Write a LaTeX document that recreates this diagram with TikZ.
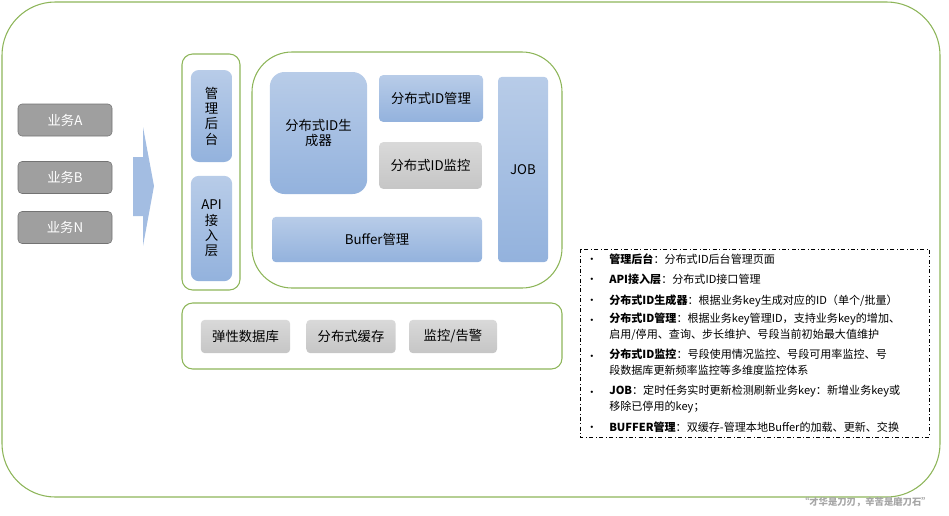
\documentclass[tikz,border=0pt]{standalone}
\usepackage{fontspec}
\setmainfont{Noto Sans CJK SC}
\usetikzlibrary{positioning}
\definecolor{frame}{HTML}{8DB559}
\definecolor{blueT}{HTML}{B8CCE8}
\definecolor{blueB}{HTML}{93B2DD}
\tikzset{
    box/.style={rectangle, rounded corners=3pt, inner sep=0pt, font=\fontsize{10}{11.5}\selectfont},
    biz/.style={box, fill=gray!75, draw=gray!90!black, text=white},
    blue/.style={box, top color=blueT, bottom color=blueB, draw=none, align=center},
    grey/.style={box, top color=gray!30, bottom color=gray!45, draw=none},
    holder/.style={rectangle, draw=frame, thick},
    note/.style={anchor=north west, inner sep=0pt, align=left, font=\fontsize{8.3}{12}\selectfont},
    dot/.style={anchor=north west, inner sep=0pt, font=\fontsize{8.3}{12}\selectfont}
}
\begin{document}
\begin{tikzpicture}[x=0.75pt, y=-0.75pt]
  \useasboundingbox (0,0) rectangle (949,515);
  \draw[holder, rounded corners=40pt] (2,2) rectangle (940,497);

  \node[biz, minimum width=70.5pt, minimum height=24pt] (ya) at (65,120) {业务A};
  \node[biz, minimum width=70.5pt, minimum height=24pt] (yb) at (65,177.5) {业务B};
  \node[biz, minimum width=70.5pt, minimum height=24pt] (yn) at (65,227.5) {业务N};

  \fill[blueB!85] (133,157) -- (143,157) -- (143,127) -- (154,186)
      -- (143,246) -- (143,216) -- (133,216) -- cycle;

  \draw[holder, rounded corners=8pt] (182,54) rectangle (240,290);
  \node[blue, minimum width=31pt, minimum height=69pt, rounded corners=6pt] (mgr) at (211.5,116) {管\\理\\后\\台};
  \node[blue, minimum width=31pt, minimum height=79pt, rounded corners=6pt] (api) at (211.5,228.5) {API\\接\\入\\层};

  \draw[holder, rounded corners=30pt] (252,52) rectangle (562,288);
  \node[blue, minimum width=73pt, minimum height=91.5pt, rounded corners=11pt] (gen) at (318.5,133) {分布式ID生\\成器};
  \node[blue, minimum width=78pt, minimum height=35pt] (idm) at (431,98.5) {分布式ID管理};
  \node[grey, minimum width=77pt, minimum height=35pt] (idk) at (430.5,165.5) {分布式ID监控};
  \node[blue, minimum width=37.5pt, minimum height=139pt] (job) at (523,169.5) {JOB};
  \node[blue, minimum width=157.5pt, minimum height=34pt] (buf) at (377,239.5) {Buffer管理};

  \draw[holder, rounded corners=8pt] (182,303) rectangle (562,369);
  \node[grey, minimum width=67pt, minimum height=25pt] (db) at (245.5,336.5) {弹性数据库};
  \node[grey, minimum width=67pt, minimum height=25pt] (cache) at (351,336.5) {分布式缓存};
  \node[grey, minimum width=66pt, minimum height=25pt] (mon) at (453,336.5) {监控/告警};

  % legend
  \draw[fill=white, dash dot] (580,249) rectangle (929,437);
  \foreach \y in {252,272,293,313,349,385,420}
    \node[dot] at (586,\y) {•\strut};
  \node[note] (n1) at (609,252) {\textbf{管理后台}：分布式ID后台管理页面\strut};
  \node[note] (n2) at (609,272) {\textbf{API接入层}：分布式ID接口管理\strut};
  \node[note] (n3) at (609,293) {\textbf{分布式ID生成器}：根据业务key生成对应的ID（单个/批量）\strut};
  \node[note] (n4) at (609,313) {\textbf{分布式ID管理}：根据业务key管理ID，支持业务key的增加、\\启用/停用、查询、步长维护、号段当前初始最大值维护\strut};
  \node[note] (n5) at (609,349) {\textbf{分布式ID监控}：号段使用情况监控、号段可用率监控、号\\段数据库更新频率监控等多维度监控体系\strut};
  \node[note] (n6) at (609,385) {\textbf{JOB}：定时任务实时更新检测刷新业务key：新增业务key或\\移除已停用的key；\strut};
  \node[note] (n7) at (609,420) {\textbf{BUFFER管理}：双缓存-管理本地Buffer的加载、更新、交换\strut};

  \node[anchor=east, inner sep=0pt, text=gray!70, font=\bfseries\fontsize{7}{8}\selectfont] (motto) at (931,502) {“才华是刀刃，辛苦是磨刀石”};
\end{tikzpicture}
\end{document}
